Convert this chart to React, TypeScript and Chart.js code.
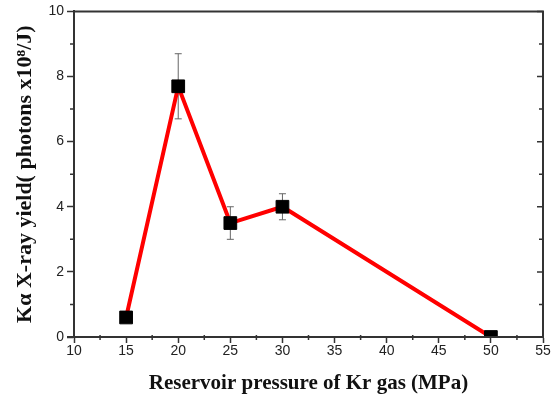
import React, { useEffect, useRef } from "react";
import { Chart, registerables } from "chart.js";
Chart.register(...registerables);

const pressures = [15, 20, 25, 30, 50];
const yields = [0.6, 7.7, 3.5, 4.0, 0.0];
const yieldErrors = [0.1, 1.0, 0.5, 0.4, 0.0];
const xMinorTicks = [12.5, 17.5, 22.5, 27.5, 32.5, 37.5, 42.5, 47.5, 52.5];
const yMajorTicks = [0, 2, 4, 6, 8, 10];
const yMinorTicks = [1, 3, 5, 7, 9];
const xTitle = "Reservoir pressure of Kr gas (MPa)";
const yTitle = "K\u03b1 X-ray yield( photons x10\u2078/J)";

const AXIS_COLOR = "#333";

const frameAndErrorPlugin = {
  id: "frameAndError",
  beforeDatasetsDraw(chart: any) {
    const { ctx, scales } = chart;
    const xs = scales.x;
    const ys = scales.y;
    ctx.save();
    ctx.beginPath();
    ctx.rect(chart.chartArea.left, chart.chartArea.top, chart.chartArea.right - chart.chartArea.left, chart.chartArea.bottom - chart.chartArea.top);
    ctx.clip();
    ctx.strokeStyle = "#666";
    ctx.lineWidth = 1;
    pressures.forEach((p, i) => {
      const e = yieldErrors[i];
      if (!e) return;
      const px = xs.getPixelForValue(p);
      const top = ys.getPixelForValue(yields[i] + e);
      const bot = ys.getPixelForValue(yields[i] - e);
      ctx.beginPath();
      ctx.moveTo(px, top);
      ctx.lineTo(px, bot);
      ctx.moveTo(px - 3.5, top);
      ctx.lineTo(px + 3.5, top);
      ctx.moveTo(px - 3.5, bot);
      ctx.lineTo(px + 3.5, bot);
      ctx.stroke();
    });
    ctx.restore();
  },
  afterDraw(chart: any) {
    const { ctx, chartArea, scales } = chart;
    const xs = scales.x;
    const ys = scales.y;
    ctx.save();
    ctx.strokeStyle = AXIS_COLOR;
    ctx.lineWidth = 2;
    ctx.beginPath();
    ctx.moveTo(chartArea.left, chartArea.top);
    ctx.lineTo(chartArea.right, chartArea.top);
    ctx.lineTo(chartArea.right, chartArea.bottom);
    ctx.stroke();
    ctx.beginPath();
    ctx.moveTo(chartArea.left - 7, chartArea.bottom);
    ctx.lineTo(chartArea.right, chartArea.bottom);
    ctx.stroke();
    ctx.lineWidth = 1.5;
    ctx.beginPath();
    xMinorTicks.forEach((v) => {
      const px = xs.getPixelForValue(v);
      ctx.moveTo(px, chartArea.bottom - 2);
      ctx.lineTo(px, chartArea.bottom + 3);
    });
    yMinorTicks.forEach((v) => {
      const py = ys.getPixelForValue(v);
      ctx.moveTo(chartArea.left - 4, py);
      ctx.lineTo(chartArea.left, py);
      ctx.moveTo(chartArea.right, py);
      ctx.lineTo(chartArea.right - 4, py);
    });
    yMajorTicks.forEach((v) => {
      const py = ys.getPixelForValue(v);
      ctx.moveTo(chartArea.right, py);
      ctx.lineTo(chartArea.right - 6, py);
    });
    ctx.stroke();
    ctx.restore();
  },
};

export default function App() {
  const canvasRef = useRef<HTMLCanvasElement | null>(null);
  useEffect(() => {
    if (!canvasRef.current) return;
    const chart = new Chart(canvasRef.current, {
      type: "line",
      data: {
        datasets: [
          {
            data: pressures.map((p, i) => ({ x: p, y: yields[i] })),
            borderColor: "#ff0000",
            borderWidth: 4,
            pointStyle: "rect",
            pointRadius: 9,
            pointBackgroundColor: "#000",
            pointBorderColor: "#000",
            pointBorderWidth: 1,
            tension: 0,
            clip: 0,
          } as any,
        ],
      },
      options: {
        animation: false,
        responsive: true,
        maintainAspectRatio: false,
        layout: { padding: { top: 9, right: 8, left: 0, bottom: 0 } },
        plugins: { legend: { display: false }, tooltip: { enabled: false } },
        scales: {
          x: {
            type: "linear",
            min: 10,
            max: 55,
            ticks: {
              stepSize: 5,
              color: "#222",
              font: { family: "Liberation Sans", size: 14 },
              padding: 0,
              maxRotation: 0,
            },
            grid: { drawOnChartArea: false, drawTicks: true, tickLength: 6, color: AXIS_COLOR, tickWidth: 1.5 },
            border: { display: true, color: AXIS_COLOR, width: 2 },
            title: {
              display: true,
              text: xTitle,
              color: "#111",
              font: { family: "Liberation Serif", size: 21, weight: "bold" },
              padding: { top: 0, bottom: 2 },
            },
            afterFit: (scale: any) => {
              scale.height = 61;
            },
          },
          y: {
            type: "linear",
            min: 0,
            max: 10,
            ticks: {
              stepSize: 2,
              color: "#222",
              font: { family: "Liberation Sans", size: 14 },
              padding: 3,
            },
            grid: { drawOnChartArea: false, drawTicks: true, tickLength: 7, color: AXIS_COLOR, tickWidth: 1.5 },
            border: { display: true, color: AXIS_COLOR, width: 2 },
            title: {
              display: true,
              text: yTitle,
              color: "#111",
              font: { family: "Liberation Serif", size: 22, weight: "bold" },
              padding: { top: 12, bottom: 0 },
            },
            afterFit: (scale: any) => {
              scale.width = 74;
            },
          },
        },
      } as any,
      plugins: [frameAndErrorPlugin],
    });
    return () => chart.destroy();
  }, []);
  return (
    <div style={{ position: "absolute", left: 0, top: 0, width: 553, height: 398, background: "#fff" }}>
      <canvas ref={canvasRef} />
    </div>
  );
}
